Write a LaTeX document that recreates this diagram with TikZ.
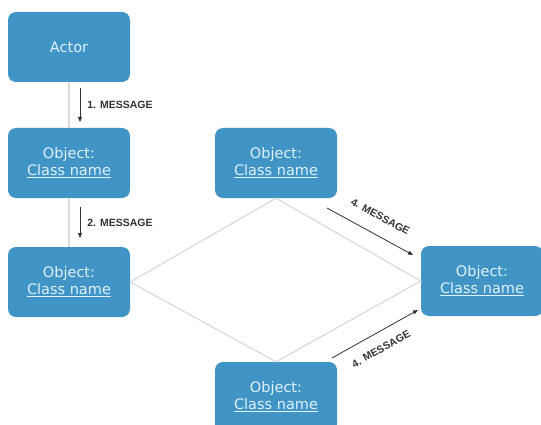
\documentclass[tikz,border=0pt]{standalone}
\usepackage{fontspec}
\setmainfont{DejaVu Sans}
\newfontfamily\msgfont{Liberation Sans}
\usetikzlibrary{arrows.meta,positioning}

\definecolor{boxblue}{RGB}{64,149,198}
\definecolor{boxtext}{RGB}{224,241,250}
\definecolor{linkgray}{RGB}{218,218,218}
\definecolor{msggray}{RGB}{51,51,51}

\tikzset{
  obj/.style={fill=boxblue, text=boxtext, rounded corners=8pt, minimum width=122pt,
    minimum height=70pt, inner sep=0pt, align=center, font=\fontsize{14.5}{17}\selectfont},
  link/.style={draw=linkgray, line width=1.2pt},
  msg/.style={draw=msggray, line width=0.8pt, -{Triangle[length=5pt,width=4pt]}},
  msglabel/.style={text=msggray, font=\msgfont\bfseries\fontsize{10.5}{12}\selectfont, inner sep=1pt}
}
\newcommand{\objtext}{Object:\\\underline{Class name}}

\begin{document}
\begin{tikzpicture}[x=1pt,y=-1pt]
\useasboundingbox (0,0) rectangle (541,425);

\node[obj] (actor) at (69,47) {Actor};
\node[obj] (obj1) at (69,163) {\objtext};
\node[obj] (obj2) at (69,282) {\objtext};
\node[obj] (objtop) at (276,163) {\objtext};
\node[obj] (objright) at (482,281) {\objtext};
\node[obj] (objbot) at (276,397) {\objtext};

% grey links
\draw[link] (actor) -- (obj1);
\draw[link] (obj1) -- (obj2);
\draw[link] (obj2.east) -- (objtop.south) -- (objright.west) -- (objbot.north) -- (obj2.east);

% messages
\coordinate (m1a) at (80,88);
\coordinate (m1b) at (80,122);
\coordinate (m2a) at (80,207);
\coordinate (m2b) at (80,238);
\coordinate (m4a) at (327,208);
\coordinate (m4b) at (413,255);
\coordinate (m5a) at (332,358);
\coordinate (m5b) at (418,310);

\draw[msg] (m1a) -- node[msglabel, right=6pt] {1. MESSAGE} (m1b);
\draw[msg] (m2a) -- node[msglabel, right=6pt] {2. MESSAGE} (m2b);
\draw[msg] (m4a) -- node[msglabel, sloped, above=13pt, pos=0.52] {4. MESSAGE} (m4b);
\draw[msg] (m5a) -- node[msglabel, sloped, below=11pt, pos=0.48] {4. MESSAGE} (m5b);
\end{tikzpicture}
\end{document}
